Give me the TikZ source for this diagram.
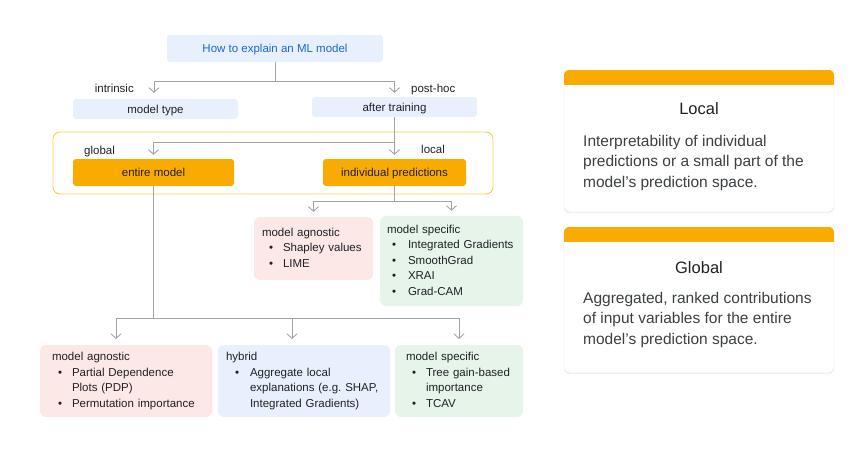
\documentclass[tikz,border=0pt]{standalone}
\usepackage{fontspec}
\setmainfont{Liberation Sans}
\usetikzlibrary{arrows.meta,shadows}

\definecolor{gblue}{HTML}{E8F0FE}
\definecolor{gbluetext}{HTML}{1967D2}
\definecolor{gorange}{HTML}{F9AB00}
\definecolor{gframe}{HTML}{FBCB4A}
\definecolor{gpink}{HTML}{FCE8E6}
\definecolor{ggreen}{HTML}{E6F4EA}
\definecolor{gline}{HTML}{A0A3A8}
\definecolor{gtext}{HTML}{202124}
\definecolor{gbody}{HTML}{3C4043}

\begin{document}
\begin{tikzpicture}[x=1pt,y=-1pt,
    font=\fontsize{11.5}{15.5}\selectfont, text=gtext,
    treebox/.style={rounded corners=3pt, inner sep=0pt, text height=8.2pt, text depth=0pt},
    treelabel/.style={inner sep=0pt, text height=8.2pt, text depth=0pt},
    listbox/.style={rounded corners=6pt, inner ysep=3pt, align=left},
    arr/.style={draw=gline, line width=0.9pt, -{Straight Barb[length=4.5pt,width=10pt]}},
    card/.style={draw=black!10, fill=white, rounded corners=6pt, minimum width=270pt,
      drop shadow={shadow xshift=0pt, shadow yshift=-1.2pt, opacity=0.12}},
    cardtitle/.style={inner sep=0pt, font=\fontsize{16.5}{20}\selectfont},
    cardbody/.style={inner sep=0pt, align=left, text=gbody, font=\fontsize{15.5}{20.5}\selectfont}]
  \useasboundingbox (0,0) rectangle (857,463);

  % tree
  \node[treebox, fill=gblue, text=gbluetext, minimum width=216pt, minimum height=27pt] (top) at (275,48.5) {How to explain an ML model};
  \node[treebox, fill=gblue, minimum width=165pt, minimum height=20pt] (modeltype) at (155.5,109) {model type};
  \node[treebox, fill=gblue, minimum width=165pt, minimum height=20pt] (after) at (394.5,107) {after training};
  \node[treelabel, anchor=east] (intrinsic) at (134,88) {intrinsic};
  \node[treelabel, anchor=west] (posthoc) at (411,88) {post-hoc};

  \node[draw=gframe, line width=0.9pt, rounded corners=7pt, minimum width=440pt, minimum height=62pt] (scopeframe) at (273,163) {};
  \node[treebox, fill=gorange, minimum width=161pt, minimum height=27pt] (entire) at (153.5,172.5) {entire model};
  \node[treebox, fill=gorange, minimum width=143pt, minimum height=27pt] (indiv) at (394.5,172.5) {individual predictions};
  \node[treelabel, anchor=west] (global) at (84,150) {global};
  \node[treelabel, anchor=west] (local) at (421,149) {local};

  \node[listbox, fill=gpink, text width=103pt, inner xsep=8pt, minimum height=63pt] (agnlocal) at (313.5,248.5) {\begin{tabular}{@{\hspace{7pt}}c@{\hspace{10pt}}l@{}}
    \multicolumn{2}{@{}l@{}}{model agnostic}\\
    \textbullet & Shapley values\\
    \textbullet & LIME
  \end{tabular}};
  \node[listbox, fill=ggreen, text width=129pt, inner xsep=7pt, minimum height=90pt] (speclocal) at (451.5,261) {\begin{tabular}{@{\hspace{5pt}}c@{\hspace{12pt}}l@{}}
    \multicolumn{2}{@{}l@{}}{model specific}\\
    \textbullet & Integrated Gradients\\
    \textbullet & SmoothGrad\\
    \textbullet & XRAI\\
    \textbullet & Grad-CAM
  \end{tabular}};

  \node[listbox, fill=gpink, text width=148pt, inner xsep=12pt, minimum height=72pt] (agnglobal) at (126,381) {\begin{tabular}{@{\hspace{6pt}}c@{\hspace{10pt}}l@{}}
    \multicolumn{2}{@{}l@{}}{model agnostic}\\
    \textbullet & Partial Dependence\\
     & Plots (PDP)\\
    \textbullet & Permutation importance
  \end{tabular}};
  \node[listbox, fill=gblue, text width=156pt, inner xsep=8pt, minimum height=72pt] (hybrid) at (304,381) {\begin{tabular}{@{\hspace{9pt}}c@{\hspace{11pt}}l@{}}
    \multicolumn{2}{@{}l@{}}{hybrid}\\
    \textbullet & Aggregate local\\
     & explanations (e.g.\ SHAP,\\
     & Integrated Gradients)
  \end{tabular}};
  \node[listbox, fill=ggreen, text width=106pt, inner xsep=11pt, minimum height=72pt] (specglobal) at (459,381) {\begin{tabular}{@{\hspace{6pt}}c@{\hspace{10pt}}l@{}}
    \multicolumn{2}{@{}l@{}}{model specific}\\
    \textbullet & Tree gain-based\\
     & importance\\
    \textbullet & TCAV
  \end{tabular}};

  % connectors
  \coordinate (fork1) at ([yshift=-19pt]top.south);
  \draw[draw=gline, line width=0.9pt] (top.south) -- (fork1);
  \draw[arr] (fork1) -| ([yshift=6pt]modeltype.north -| 154,0);
  \draw[arr] (fork1) -| ([yshift=4pt]after.north);

  \coordinate (fork2) at ([yshift=-25pt]after.south);
  \draw[draw=gline, line width=0.9pt] (after.south) -- (fork2);
  \draw[arr] (fork2) -| ([yshift=4pt]entire.north);
  \draw[arr] (fork2) -- ([yshift=4pt]indiv.north);

  \coordinate (fork3) at ([yshift=-15pt]indiv.south);
  \draw[draw=gline, line width=0.9pt] (indiv.south) -- (fork3);
  \draw[arr] (fork3) -| ([yshift=5pt]agnlocal.north);
  \draw[arr] (fork3) -| ([yshift=5pt]speclocal.north);

  \coordinate (fork4) at ([yshift=-132pt]entire.south);
  \coordinate (agnin) at (116,339);
  \coordinate (hybin) at (292,339);
  \coordinate (specin) at (459,339);
  \draw[draw=gline, line width=0.9pt] (entire.south) -- (fork4);
  \draw[arr] (fork4) -| (agnin);
  \draw[arr] (fork4) -| (hybin);
  \draw[arr] (fork4) -| (specin);

  % cards
  \node[card, minimum height=142pt] (localcard) at (699,141) {};
  \begin{scope}
    \clip[rounded corners=6pt] (localcard.north west) rectangle (localcard.south east);
    \fill[gorange] (localcard.north west) rectangle ([yshift=-15pt]localcard.north east);
  \end{scope}
  \node[cardtitle] (localtitle) at (699,109) {Local};
  \node[cardbody, anchor=north west] (localtext) at (583,135) {Interpretability of individual\\predictions or a small part of the\\model’s prediction space.};

  \node[card, minimum height=146pt] (globalcard) at (699,300) {};
  \begin{scope}
    \clip[rounded corners=6pt] (globalcard.north west) rectangle (globalcard.south east);
    \fill[gorange] (globalcard.north west) rectangle ([yshift=-15pt]globalcard.north east);
  \end{scope}
  \node[cardtitle] (globaltitle) at (699,268) {Global};
  \node[cardbody, anchor=north west] (globaltext) at (583,292) {Aggregated, ranked contributions\\of input variables for the entire\\model’s prediction space.};
\end{tikzpicture}
\end{document}
